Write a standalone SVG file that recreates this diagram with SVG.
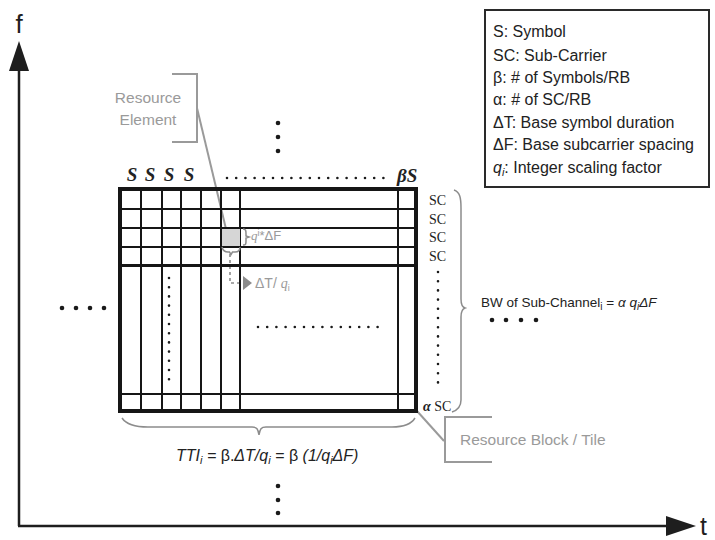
<svg xmlns="http://www.w3.org/2000/svg" width="715" height="540" viewBox="0 0 715 540">
<style>
.ax{stroke:#1e1e1e;stroke-width:2.5;fill:none}
.bd{stroke:#161616;stroke-width:4;fill:none}
.gl{stroke:#161616;stroke-width:2;fill:none}
.gy{stroke:#9a9a9a;stroke-width:2;fill:none}
.gyt{stroke:#8c8c8c;stroke-width:1.5;fill:none}
.sd{stroke:#1a1a1a;stroke-width:2.6;stroke-linecap:round;stroke-dasharray:0 9.2;fill:none}
.sans{font-family:"Liberation Sans",Arial,sans-serif}
.serif{font-family:"Liberation Serif","Times New Roman",serif}
.lg{font-family:"Liberation Sans",Arial,sans-serif;font-size:16px;fill:#222}
.gtx{font-family:"Liberation Sans",Arial,sans-serif;fill:#9a9a9a}
.S{font-family:"Liberation Serif","Times New Roman",serif;font-style:italic;font-weight:bold;font-size:19px;fill:#222}
.SC{font-family:"Liberation Serif","Times New Roman",serif;font-size:14px;fill:#222}
</style>
<defs>
<marker id="arr" viewBox="0 0 30 20" refX="0" refY="10" markerWidth="30" markerHeight="20" markerUnits="userSpaceOnUse" orient="auto">
<polygon points="0,0 30,10 0,20" fill="#1e1e1e"/>
</marker>
</defs>

<g id="connectors">
<path class="ax" d="M19,526 L19,71" marker-end="url(#arr)"/>
<path class="ax" d="M18,526 L666,526" marker-end="url(#arr)"/>
<path class="gy" d="M197,108 L226,229"/>
<path class="gy" d="M417,411 L444,441"/>
<path d="M230,254 L230,283 L243,283" stroke="#8c8c8c" stroke-width="1.6" stroke-dasharray="3 3" fill="none"/>
<polygon points="243,276 252,283 243,290" fill="#8c8c8c"/>
</g>

<g id="axis-labels">
<text x="19" y="33" text-anchor="middle" class="sans" font-size="26" fill="#1e1e1e">f</text>
<text x="700" y="535" class="sans" font-size="25" fill="#1e1e1e">t</text>
</g>

<g id="legend">
<rect x="485" y="10" width="224" height="177" fill="#fff" stroke="#2a2a2a" stroke-width="2"/>
<text class="lg" x="493" y="37">S: Symbol</text>
<text class="lg" x="493" y="61">SC: Sub-Carrier</text>
<text class="lg" x="493" y="83">β: # of Symbols/RB</text>
<text class="lg" x="493" y="105">α: # of SC/RB</text>
<text class="lg" x="493" y="128">ΔT: Base symbol duration</text>
<text class="lg" x="493" y="150">ΔF: Base subcarrier spacing</text>
<text class="lg" x="493" y="173"><tspan font-style="italic">q</tspan><tspan font-style="italic" font-size="11" dy="3">i</tspan><tspan dy="-3">: Integer scaling factor</tspan></text>
</g>

<g id="resource-block-grid">
<g class="gl">
<path d="M141,189 V411 M162,189 V411 M181,189 V411 M201,189 V411 M221,189 V411 M240,189 V411 M398,189 V411"/>
<path d="M120,209 H416 M120,228 H416 M120,247 H416 M120,394 H416"/>
</g>
<path d="M120,265.5 H416" stroke="#161616" stroke-width="3"/>
<rect x="222" y="229" width="18" height="17" fill="#d6d6d6"/>
<rect class="bd" x="120" y="189" width="296" height="222"/>
<path class="sd" d="M169,278 V380"/>
<path class="sd" d="M258,327 H378"/>
</g>

<g id="symbol-labels">
<text class="S" x="132" y="181" text-anchor="middle">S</text>
<text class="S" x="150" y="181" text-anchor="middle">S</text>
<text class="S" x="169" y="181" text-anchor="middle">S</text>
<text class="S" x="189" y="181" text-anchor="middle">S</text>
<path class="sd" d="M227,178 H384"/>
<text class="S" x="397" y="182">βS</text>
</g>

<g id="subcarrier-labels">
<text class="SC" x="429" y="205">SC</text>
<text class="SC" x="429" y="224">SC</text>
<text class="SC" x="429" y="242">SC</text>
<text class="SC" x="429" y="261">SC</text>
<path class="sd" d="M438,272 V383"/>
<text class="SC" x="423" y="411"><tspan font-weight="bold" font-style="italic">α</tspan> SC</text>
</g>

<g id="resource-element">
<path class="gy" d="M172,74 H197 V142 H172"/>
<text class="gtx" font-size="15.5" x="148" y="103" text-anchor="middle">Resource</text>
<text class="gtx" font-size="15.5" x="148" y="125" text-anchor="middle">Element</text>
<path class="gyt" d="M243,229 C246,229 246,231 246,234 L246,236 L249,237 L246,238 L246,241 C246,244 246,245 243,245"/>
<text class="gtx" font-size="13" x="251" y="240"><tspan class="serif" font-style="italic">q</tspan><tspan font-size="9" dy="-4">i</tspan><tspan dy="4">*ΔF</tspan></text>
<path class="gyt" d="M222,247 C223,251 225,252 228,252 L229.5,252 L231,254.5 L232.5,252 L235,252 C238,252 240,251 240,247"/>
<text class="gtx" font-size="14" x="255" y="288">ΔT/ <tspan class="serif" font-style="italic">q</tspan><tspan font-size="9" dy="3">i</tspan></text>
</g>

<g id="bandwidth">
<path class="gyt" d="M454,190 C460,192 461,198 461,208 L461,299 C461,304 462,307 465,308 C462,309 461,312 461,317 L461,400 C461,406 458,410 452,412"/>
<text class="sans" font-size="13.5" fill="#222" x="481" y="307">BW of Sub-Channel<tspan font-size="10" dy="3">i</tspan><tspan dy="-3"> = </tspan><tspan font-style="italic">α q</tspan><tspan font-style="italic" font-size="10" dy="3">i</tspan><tspan font-style="italic" dy="-3">ΔF</tspan></text>
</g>

<g id="tti">
<path class="gyt" d="M122,418 C126,424 134,427 148,427 L252,427 C257,427 258,429 259,435 C260,429 261,427 266,427 L392,427 C406,427 412,423 415,418"/>
<text class="sans" font-size="16" font-style="italic" fill="#222" x="176" y="461">TTI<tspan font-size="11" dy="3">i</tspan><tspan dy="-3"> = </tspan><tspan font-style="normal">β.</tspan>ΔT/q<tspan font-size="11" dy="3">i</tspan><tspan dy="-3">  = </tspan><tspan font-style="normal">β </tspan>(1/q<tspan font-size="11" dy="3">i</tspan><tspan dy="-3">ΔF)</tspan></text>
</g>

<g id="resource-block-tile">
<path class="gy" d="M492,417 H445 V462 H492"/>
<text class="gtx" font-size="15.5" x="460" y="445">Resource Block / Tile</text>
</g>

<g id="continuation-dots" fill="#1a1a1a">
<circle cx="278" cy="123" r="2.3"/><circle cx="278" cy="137" r="2.3"/><circle cx="278" cy="151" r="2.3"/>
<circle cx="278" cy="486" r="2.3"/><circle cx="278" cy="500" r="2.3"/><circle cx="278" cy="513" r="2.3"/>
<circle cx="62" cy="308" r="2.3"/><circle cx="76" cy="308" r="2.3"/><circle cx="90" cy="308" r="2.3"/><circle cx="104" cy="308" r="2.3"/>
<circle cx="492" cy="320" r="2.3"/><circle cx="506" cy="320" r="2.3"/><circle cx="521" cy="320" r="2.3"/><circle cx="536" cy="320" r="2.3"/>
</g>
</svg>
